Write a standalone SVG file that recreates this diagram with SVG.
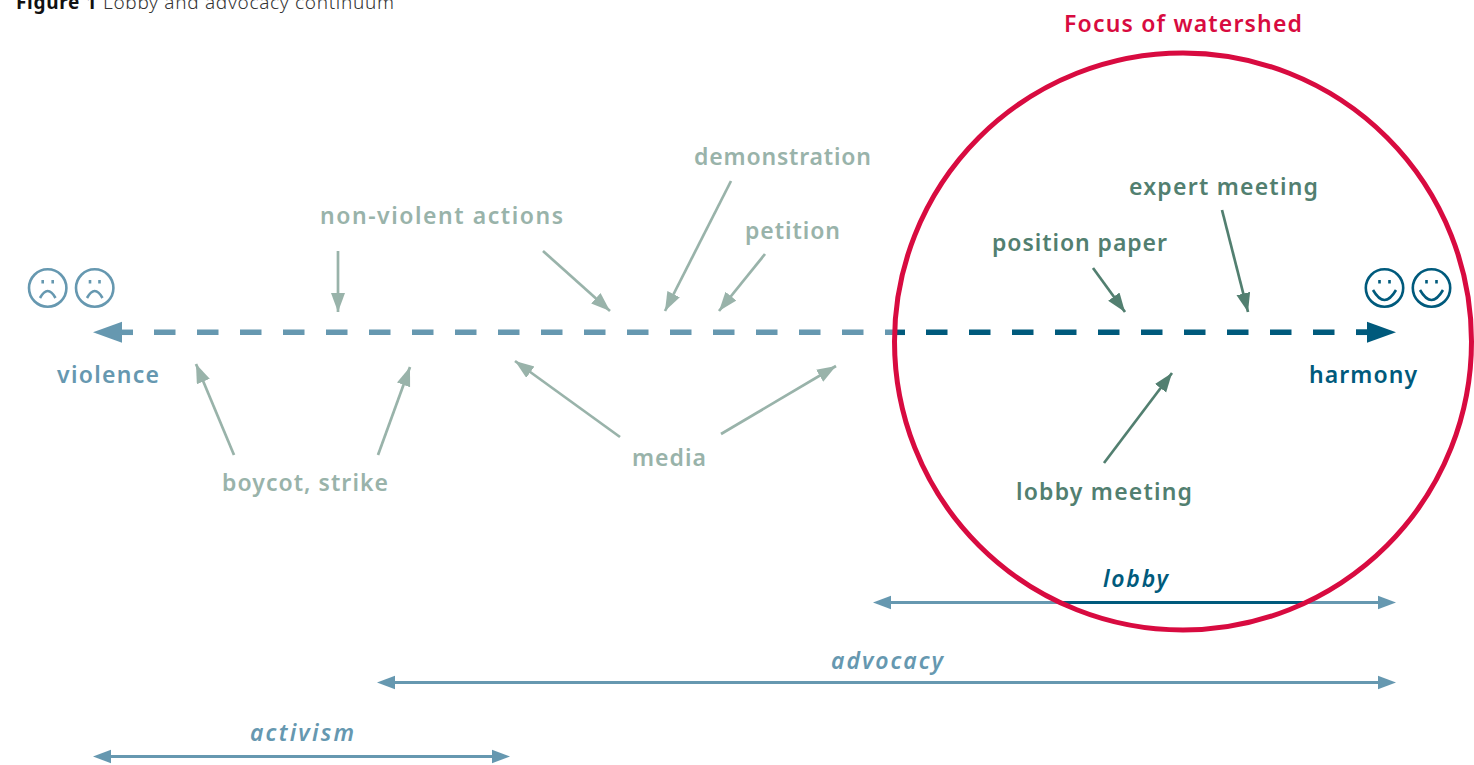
<svg xmlns="http://www.w3.org/2000/svg" width="1474" height="765" viewBox="0 0 1474 765">
<style>
text{font-family:"Noto Sans","Open Sans","DejaVu Sans",sans-serif;font-weight:600;font-size:23px}
.it{font-style:italic;font-weight:600}
.lt{fill:#99b3aa}.gr{fill:#527f70}.bl{fill:#6698b0}.dk{fill:#005a7c}
.a1,.a2{fill:none;stroke-width:2.7}
.a1{stroke:#99b3aa}.a2{stroke:#527f70}
.rng{fill:none;stroke:#6698b0;stroke-width:3}
.face{fill:none;stroke-width:2.6}
.f1{stroke:#6698b0}.f2{stroke:#005a7c}
</style>
<defs>
<marker id="hl" markerUnits="userSpaceOnUse" markerWidth="20" markerHeight="16" refX="19" refY="7" orient="auto"><path d="M0 0L19 7L0 14Z" fill="#99b3aa"/></marker>
<marker id="hg" markerUnits="userSpaceOnUse" markerWidth="20" markerHeight="16" refX="19" refY="7" orient="auto"><path d="M0 0L19 7L0 14Z" fill="#527f70"/></marker>
<path id="rb" d="M0 0L-18 -6.700V6.700Z" fill="#6698b0"/>
</defs>
<g id="title"><text x="16" y="9" textLength="378" style="font-size:19px;font-weight:700;fill:#111">Figure 1 <tspan style="font-weight:300;fill:#333">Lobby and advocacy continuum</tspan></text></g>
<g id="connectors">
<path d="M133 332.300H121" stroke="#6698b0" stroke-width="5.500"/>
<path d="M154 332.300H893" stroke="#6698b0" stroke-width="5.500" stroke-dasharray="21.500 21.500"/>
<path d="M893 332.300H905" stroke="#005a7c" stroke-width="5.500"/>
<path d="M926 332.300H1368" stroke="#005a7c" stroke-width="5.500" stroke-dasharray="21.500 21.500"/>
<path d="M1356 332.300H1368" stroke="#005a7c" stroke-width="5.500"/>
<path d="M93 332.300L122 321.800V342.800Z" fill="#6698b0"/>
<path d="M1396 332.300L1367 321.800V342.800Z" fill="#005a7c"/>
<g class="a1">
<path d="M338 251V312" marker-end="url(#hl)"/>
<path d="M543 251L610 311" marker-end="url(#hl)"/>
<path d="M731 181L665 311" marker-end="url(#hl)"/>
<path d="M765 254L719 311" marker-end="url(#hl)"/>
<path d="M234 455L196 364" marker-end="url(#hl)"/>
<path d="M378 455L410 367" marker-end="url(#hl)"/>
<path d="M620 437L515 361" marker-end="url(#hl)"/>
<path d="M721 434L836 366" marker-end="url(#hl)"/>
</g>
<g class="a2">
<path d="M1093 268L1125 312" marker-end="url(#hg)"/>
<path d="M1222 210L1248 312" marker-end="url(#hg)"/>
<path d="M1104 463L1172 373" marker-end="url(#hg)"/>
</g>
<path class="rng" d="M885 602.500H1384M390 682.500H1384M105 756.500H497"/>
<path d="M1062 602.500H1305" stroke="#005a7c" stroke-width="3"/>
<use href="#rb" transform="translate(1396 602.500)"/>
<use href="#rb" transform="translate(873 602.500) rotate(180)"/>
<use href="#rb" transform="translate(1396 682.500)"/>
<use href="#rb" transform="translate(377 682.500) rotate(180)"/>
<use href="#rb" transform="translate(510 756.500)"/>
<use href="#rb" transform="translate(93 756.500) rotate(180)"/>
</g>
<g id="focus-circle"><circle cx="1183" cy="341.500" r="288.500" fill="none" stroke="#d80b40" stroke-width="5"/></g>
<g id="focus-label"><text x="1183" y="32" text-anchor="middle" textLength="238" style="fill:#d80b40">Focus of watershed</text></g>
<g id="sad-1" class="face f1"><circle cx="47.700" cy="288" r="18.700"/><path d="M40 298Q47.700 284 55.500 298"/><path d="M42.700 280v3.500M52.700 280v3.500"/></g>
<g id="sad-2" class="face f1"><circle cx="94.700" cy="288" r="18.700"/><path d="M87 298Q94.700 284 102.500 298"/><path d="M90 280v3.500M99.500 280v3.500"/></g>
<g id="happy-1" class="face f2"><circle cx="1384.500" cy="288" r="18.700"/><path d="M1373 290Q1384.500 310 1396 290"/><path d="M1379.500 280v3.500M1389.500 280v3.500"/></g>
<g id="happy-2" class="face f2"><circle cx="1431.500" cy="288" r="18.700"/><path d="M1420 290Q1431.500 310 1443 290"/><path d="M1426.500 280v3.500M1436.500 280v3.500"/></g>
<g id="violence"><text x="57" y="383" textLength="102" class="bl">violence</text></g>
<g id="harmony"><text x="1309" y="383" textLength="108" class="dk">harmony</text></g>
<g id="non-violent"><text x="320" y="224" textLength="243" class="lt">non-violent actions</text></g>
<g id="demonstration"><text x="694" y="165" textLength="177" class="lt">demonstration</text></g>
<g id="petition"><text x="745" y="239" textLength="95" class="lt">petition</text></g>
<g id="boycot"><text x="222" y="491" textLength="166" class="lt">boycot, strike</text></g>
<g id="media"><text x="632" y="466" textLength="74" class="lt">media</text></g>
<g id="expert"><text x="1129" y="195" textLength="189" class="gr">expert meeting</text></g>
<g id="position"><text x="992" y="251" textLength="175" class="gr">position paper</text></g>
<g id="lobby-meeting"><text x="1016" y="500" textLength="176" class="gr">lobby meeting</text></g>
<g id="lobby"><text x="1103" y="587" textLength="65" class="it dk">lobby</text></g>
<g id="advocacy"><text x="831" y="669" textLength="112" class="it bl">advocacy</text></g>
<g id="activism"><text x="250" y="741" textLength="104" class="it bl">activism</text></g>
</svg>
